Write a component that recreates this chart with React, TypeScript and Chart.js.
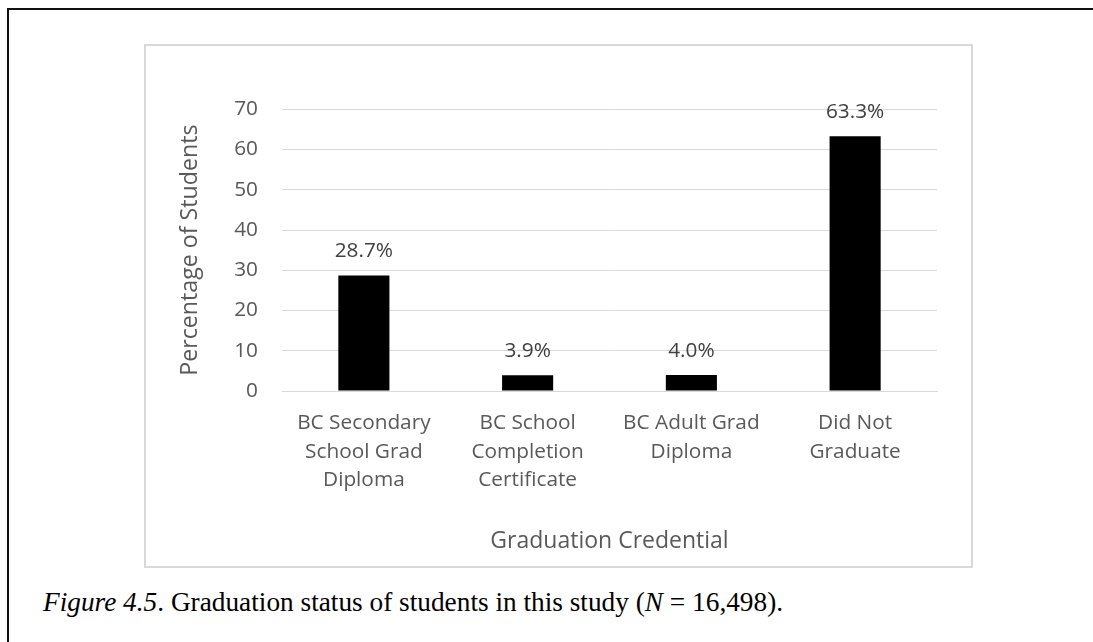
import React, { useEffect, useRef } from "react";
import { Chart, registerables } from "chart.js";

Chart.register(...registerables);

// Graduation credential categories (multi-line tick labels)
const categories: string[][] = [
  ["BC Secondary", "School Grad", "Diploma"],
  ["BC School", "Completion", "Certificate"],
  ["BC Adult Grad", "Diploma"],
  ["Did Not", "Graduate"],
];

// Percentage of students holding each credential
const percentages: number[] = [28.7, 3.9, 4.0, 63.3];

// Y axis range and step
const yMin = 0;
const yMax = 70;
const yStep = 10;

const AXIS_TEXT = "#595959";
const LABEL_TEXT = "#404040";
const GRID = "#d9d9d9";
const SANS = "'Open Sans', 'Noto Sans', sans-serif";
const TICK_SIZE = 20.8;

const valueLabels = {
  id: "valueLabels",
  afterDatasetsDraw(chart: any) {
    const { ctx } = chart;
    const meta = chart.getDatasetMeta(0);
    ctx.save();
    ctx.font = `${TICK_SIZE}px ${SANS}`;
    ctx.fillStyle = LABEL_TEXT;
    ctx.textAlign = "center";
    ctx.textBaseline = "middle";
    meta.data.forEach((bar: any, i: number) => {
      const v = chart.data.datasets[0].data[i] as number;
      ctx.fillText(`${v.toFixed(1)}%`, bar.x, bar.y - 24);
    });
    ctx.restore();
  },
};

function GraduationChart() {
  const canvasRef = useRef<HTMLCanvasElement | null>(null);

  useEffect(() => {
    if (!canvasRef.current) return;
    const chart = new Chart(canvasRef.current, {
      type: "bar",
      data: {
        labels: categories,
        datasets: [
          {
            data: percentages,
            backgroundColor: "#000000",
            borderColor: "#000000",
            borderWidth: 0,
            barPercentage: 0.312,
            categoryPercentage: 1,
          },
        ],
      },
      options: {
        animation: false,
        responsive: true,
        maintainAspectRatio: false,
        layout: { padding: { top: 65.3, right: 36, left: 0, bottom: 0 } },
        plugins: {
          legend: { display: false },
          tooltip: { enabled: false },
        },
        scales: {
          x: {
            grid: { display: false, drawTicks: false },
            border: { display: true, color: GRID, width: 1 },
            ticks: {
              color: AXIS_TEXT,
              font: { family: SANS, size: TICK_SIZE, lineHeight: 1.38 },
              padding: 17.6,
              maxRotation: 0,
              autoSkip: false,
            },
            title: {
              display: true,
              text: "Graduation Credential",
              color: AXIS_TEXT,
              font: { family: SANS, size: 23 },
              padding: { top: 0, bottom: 13 },
            },
            afterFit(scale: any) {
              scale.height = 177;
            },
          },
          y: {
            min: yMin,
            max: yMax,
            grid: { color: GRID, lineWidth: 1, drawTicks: false },
            border: { display: false },
            ticks: {
              stepSize: yStep,
              color: AXIS_TEXT,
              font: { family: SANS, size: TICK_SIZE },
              padding: 24,
            },
            title: {
              display: true,
              text: "Percentage of Students",
              color: AXIS_TEXT,
              font: { family: SANS, size: 23.2 },
              padding: { top: 32, bottom: 0 },
            },
            afterFit(scale: any) {
              scale.width = 138;
            },
          },
        },
      },
      plugins: [valueLabels],
    });
    return () => chart.destroy();
  }, []);

  return (
    <div
      style={{
        position: "absolute",
        left: 144,
        top: 44,
        width: 829,
        height: 524,
        boxSizing: "border-box",
        border: `2px solid ${GRID}`,
        background: "#ffffff",
      }}
    >
      <div style={{ position: "absolute", left: -2, top: -2, width: 829, height: 524 }}>
        <canvas ref={canvasRef} />
      </div>
    </div>
  );
}

export default function App() {
  return (
    <div>
      <div
        style={{
          position: "absolute",
          left: 7,
          top: 8,
          width: 1086,
          height: 634,
          boxSizing: "border-box",
          borderTop: "2px solid #111111",
          borderLeft: "2px solid #111111",
        }}
      />
      <GraduationChart />
      <div
        style={{
          position: "absolute",
          left: 43,
          top: 585,
          whiteSpace: "nowrap",
          fontFamily: "'Liberation Serif', 'Times New Roman', serif",
          fontSize: 28,
          lineHeight: "34px",
          color: "#000000",
          transform: "scaleX(0.975)",
          transformOrigin: "left center",
        }}
      >
        <i>Figure 4.5</i>. Graduation status of students in this study (<i>N</i> = 16,498).
      </div>
    </div>
  );
}
